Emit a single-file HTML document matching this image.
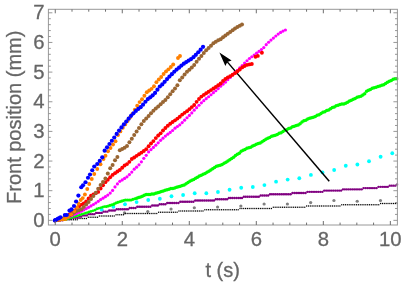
<!DOCTYPE html>
<html><head><meta charset="utf-8"><title>Front position</title>
<style>html,body{margin:0;padding:0;background:#fff;overflow:hidden}body{width:403px;height:288px;font-family:"Liberation Sans",sans-serif}</style>
</head><body>
<svg width="403" height="288" viewBox="0 0 403 288" style="display:block">
<rect width="403" height="288" fill="#fff"/>
<defs><clipPath id="c"><rect x="48.4" y="9.3" width="350.0" height="215.7"/></clipPath></defs>
<g clip-path="url(#c)">
<g fill="#808080"><circle cx="124.50" cy="212.90" r="1.6"/><circle cx="147.77" cy="211.50" r="1.6"/><circle cx="171.04" cy="209.00" r="1.6"/><circle cx="194.31" cy="207.75" r="1.6"/><circle cx="217.58" cy="207.00" r="1.6"/><circle cx="240.85" cy="206.00" r="1.6"/><circle cx="264.12" cy="204.00" r="1.6"/><circle cx="287.39" cy="204.00" r="1.6"/><circle cx="310.66" cy="202.60" r="1.6"/><circle cx="333.93" cy="200.50" r="1.6"/><circle cx="357.20" cy="201.25" r="1.6"/><circle cx="380.47" cy="200.50" r="1.6"/></g>
<g fill="#000"><rect x="54.42" y="220.35" width="1.15" height="1.3"/><rect x="56.27" y="219.10" width="1.15" height="1.3"/><rect x="58.12" y="219.10" width="1.15" height="1.3"/><rect x="59.98" y="219.10" width="1.15" height="1.3"/><rect x="61.83" y="219.10" width="1.15" height="1.3"/><rect x="63.67" y="219.10" width="1.15" height="1.3"/><rect x="65.53" y="219.10" width="1.15" height="1.3"/><rect x="67.38" y="219.10" width="1.15" height="1.3"/><rect x="69.23" y="219.10" width="1.15" height="1.3"/><rect x="71.08" y="219.10" width="1.15" height="1.3"/><rect x="72.93" y="219.10" width="1.15" height="1.3"/><rect x="74.78" y="219.10" width="1.15" height="1.3"/><rect x="76.63" y="219.10" width="1.15" height="1.3"/><rect x="78.48" y="217.85" width="1.15" height="1.3"/><rect x="80.33" y="217.85" width="1.15" height="1.3"/><rect x="82.18" y="217.85" width="1.15" height="1.3"/><rect x="84.03" y="217.85" width="1.15" height="1.3"/><rect x="85.88" y="217.85" width="1.15" height="1.3"/><rect x="87.73" y="216.60" width="1.15" height="1.3"/><rect x="89.58" y="216.60" width="1.15" height="1.3"/><rect x="91.43" y="216.60" width="1.15" height="1.3"/><rect x="93.28" y="216.60" width="1.15" height="1.3"/><rect x="95.13" y="216.60" width="1.15" height="1.3"/><rect x="96.98" y="216.60" width="1.15" height="1.3"/><rect x="98.83" y="215.35" width="1.15" height="1.3"/><rect x="100.68" y="215.35" width="1.15" height="1.3"/><rect x="102.53" y="215.35" width="1.15" height="1.3"/><rect x="104.38" y="215.35" width="1.15" height="1.3"/><rect x="106.23" y="215.35" width="1.15" height="1.3"/><rect x="108.08" y="215.35" width="1.15" height="1.3"/><rect x="109.93" y="215.35" width="1.15" height="1.3"/><rect x="111.78" y="215.35" width="1.15" height="1.3"/><rect x="113.63" y="215.35" width="1.15" height="1.3"/><rect x="115.48" y="214.10" width="1.15" height="1.3"/><rect x="117.33" y="214.10" width="1.15" height="1.3"/><rect x="119.18" y="214.10" width="1.15" height="1.3"/><rect x="121.03" y="214.10" width="1.15" height="1.3"/><rect x="122.88" y="214.10" width="1.15" height="1.3"/><rect x="124.73" y="212.85" width="1.15" height="1.3"/><rect x="126.58" y="212.85" width="1.15" height="1.3"/><rect x="128.43" y="212.85" width="1.15" height="1.3"/><rect x="130.28" y="212.85" width="1.15" height="1.3"/><rect x="132.13" y="212.85" width="1.15" height="1.3"/><rect x="133.98" y="212.85" width="1.15" height="1.3"/><rect x="135.83" y="212.85" width="1.15" height="1.3"/><rect x="137.68" y="212.85" width="1.15" height="1.3"/><rect x="139.53" y="212.85" width="1.15" height="1.3"/><rect x="141.38" y="212.85" width="1.15" height="1.3"/><rect x="143.23" y="212.85" width="1.15" height="1.3"/><rect x="145.08" y="212.85" width="1.15" height="1.3"/><rect x="146.93" y="212.85" width="1.15" height="1.3"/><rect x="148.78" y="212.85" width="1.15" height="1.3"/><rect x="150.63" y="212.85" width="1.15" height="1.3"/><rect x="152.48" y="212.85" width="1.15" height="1.3"/><rect x="154.33" y="212.85" width="1.15" height="1.3"/><rect x="156.18" y="212.85" width="1.15" height="1.3"/><rect x="158.03" y="211.60" width="1.15" height="1.3"/><rect x="159.88" y="211.60" width="1.15" height="1.3"/><rect x="161.73" y="211.60" width="1.15" height="1.3"/><rect x="163.58" y="211.60" width="1.15" height="1.3"/><rect x="165.43" y="211.60" width="1.15" height="1.3"/><rect x="167.28" y="211.60" width="1.15" height="1.3"/><rect x="169.13" y="211.60" width="1.15" height="1.3"/><rect x="170.98" y="211.60" width="1.15" height="1.3"/><rect x="172.83" y="211.60" width="1.15" height="1.3"/><rect x="174.68" y="211.60" width="1.15" height="1.3"/><rect x="176.53" y="211.60" width="1.15" height="1.3"/><rect x="178.38" y="210.35" width="1.15" height="1.3"/><rect x="180.23" y="210.35" width="1.15" height="1.3"/><rect x="182.08" y="210.35" width="1.15" height="1.3"/><rect x="183.93" y="210.35" width="1.15" height="1.3"/><rect x="185.78" y="210.35" width="1.15" height="1.3"/><rect x="187.63" y="210.35" width="1.15" height="1.3"/><rect x="189.48" y="210.35" width="1.15" height="1.3"/><rect x="191.33" y="210.35" width="1.15" height="1.3"/><rect x="193.18" y="210.35" width="1.15" height="1.3"/><rect x="195.03" y="210.35" width="1.15" height="1.3"/><rect x="196.88" y="210.35" width="1.15" height="1.3"/><rect x="198.73" y="210.35" width="1.15" height="1.3"/><rect x="200.58" y="210.35" width="1.15" height="1.3"/><rect x="202.43" y="210.35" width="1.15" height="1.3"/><rect x="204.28" y="209.10" width="1.15" height="1.3"/><rect x="206.13" y="209.10" width="1.15" height="1.3"/><rect x="207.98" y="209.10" width="1.15" height="1.3"/><rect x="209.83" y="209.10" width="1.15" height="1.3"/><rect x="211.68" y="209.10" width="1.15" height="1.3"/><rect x="213.53" y="209.10" width="1.15" height="1.3"/><rect x="215.38" y="209.10" width="1.15" height="1.3"/><rect x="217.23" y="209.10" width="1.15" height="1.3"/><rect x="219.08" y="209.10" width="1.15" height="1.3"/><rect x="220.93" y="209.10" width="1.15" height="1.3"/><rect x="222.78" y="209.10" width="1.15" height="1.3"/><rect x="224.63" y="209.10" width="1.15" height="1.3"/><rect x="226.48" y="209.10" width="1.15" height="1.3"/><rect x="228.33" y="209.10" width="1.15" height="1.3"/><rect x="230.18" y="209.10" width="1.15" height="1.3"/><rect x="232.03" y="209.10" width="1.15" height="1.3"/><rect x="233.88" y="209.10" width="1.15" height="1.3"/><rect x="235.73" y="209.10" width="1.15" height="1.3"/><rect x="237.58" y="209.10" width="1.15" height="1.3"/><rect x="239.43" y="207.85" width="1.15" height="1.3"/><rect x="241.28" y="207.85" width="1.15" height="1.3"/><rect x="243.13" y="207.85" width="1.15" height="1.3"/><rect x="244.98" y="207.85" width="1.15" height="1.3"/><rect x="246.83" y="207.85" width="1.15" height="1.3"/><rect x="248.68" y="207.85" width="1.15" height="1.3"/><rect x="250.53" y="207.85" width="1.15" height="1.3"/><rect x="252.38" y="207.85" width="1.15" height="1.3"/><rect x="254.23" y="207.85" width="1.15" height="1.3"/><rect x="256.08" y="207.85" width="1.15" height="1.3"/><rect x="257.93" y="207.85" width="1.15" height="1.3"/><rect x="259.78" y="207.85" width="1.15" height="1.3"/><rect x="261.63" y="207.85" width="1.15" height="1.3"/><rect x="263.48" y="207.85" width="1.15" height="1.3"/><rect x="265.33" y="207.85" width="1.15" height="1.3"/><rect x="267.18" y="207.85" width="1.15" height="1.3"/><rect x="269.03" y="207.85" width="1.15" height="1.3"/><rect x="270.88" y="207.85" width="1.15" height="1.3"/><rect x="272.73" y="206.60" width="1.15" height="1.3"/><rect x="274.58" y="206.60" width="1.15" height="1.3"/><rect x="276.43" y="206.60" width="1.15" height="1.3"/><rect x="278.28" y="206.60" width="1.15" height="1.3"/><rect x="280.13" y="206.60" width="1.15" height="1.3"/><rect x="281.98" y="206.60" width="1.15" height="1.3"/><rect x="283.83" y="206.60" width="1.15" height="1.3"/><rect x="285.68" y="206.60" width="1.15" height="1.3"/><rect x="287.53" y="206.60" width="1.15" height="1.3"/><rect x="289.38" y="206.60" width="1.15" height="1.3"/><rect x="291.23" y="206.60" width="1.15" height="1.3"/><rect x="293.08" y="206.60" width="1.15" height="1.3"/><rect x="294.93" y="206.60" width="1.15" height="1.3"/><rect x="296.78" y="206.60" width="1.15" height="1.3"/><rect x="298.63" y="206.60" width="1.15" height="1.3"/><rect x="300.48" y="206.60" width="1.15" height="1.3"/><rect x="302.33" y="206.60" width="1.15" height="1.3"/><rect x="304.18" y="206.60" width="1.15" height="1.3"/><rect x="306.03" y="205.35" width="1.15" height="1.3"/><rect x="307.88" y="205.35" width="1.15" height="1.3"/><rect x="309.73" y="205.35" width="1.15" height="1.3"/><rect x="311.58" y="205.35" width="1.15" height="1.3"/><rect x="313.43" y="205.35" width="1.15" height="1.3"/><rect x="315.28" y="205.35" width="1.15" height="1.3"/><rect x="317.13" y="205.35" width="1.15" height="1.3"/><rect x="318.98" y="205.35" width="1.15" height="1.3"/><rect x="320.83" y="205.35" width="1.15" height="1.3"/><rect x="322.68" y="205.35" width="1.15" height="1.3"/><rect x="324.53" y="205.35" width="1.15" height="1.3"/><rect x="326.38" y="205.35" width="1.15" height="1.3"/><rect x="328.23" y="205.35" width="1.15" height="1.3"/><rect x="330.08" y="205.35" width="1.15" height="1.3"/><rect x="331.93" y="205.35" width="1.15" height="1.3"/><rect x="333.78" y="205.35" width="1.15" height="1.3"/><rect x="335.63" y="205.35" width="1.15" height="1.3"/><rect x="337.48" y="205.35" width="1.15" height="1.3"/><rect x="339.33" y="205.35" width="1.15" height="1.3"/><rect x="341.18" y="204.10" width="1.15" height="1.3"/><rect x="343.03" y="204.10" width="1.15" height="1.3"/><rect x="344.88" y="204.10" width="1.15" height="1.3"/><rect x="346.73" y="204.10" width="1.15" height="1.3"/><rect x="348.58" y="204.10" width="1.15" height="1.3"/><rect x="350.43" y="204.10" width="1.15" height="1.3"/><rect x="352.28" y="204.10" width="1.15" height="1.3"/><rect x="354.13" y="204.10" width="1.15" height="1.3"/><rect x="355.98" y="204.10" width="1.15" height="1.3"/><rect x="357.83" y="204.10" width="1.15" height="1.3"/><rect x="359.68" y="204.10" width="1.15" height="1.3"/><rect x="361.53" y="204.10" width="1.15" height="1.3"/><rect x="363.38" y="204.10" width="1.15" height="1.3"/><rect x="365.23" y="204.10" width="1.15" height="1.3"/><rect x="367.08" y="204.10" width="1.15" height="1.3"/><rect x="368.93" y="204.10" width="1.15" height="1.3"/><rect x="370.78" y="204.10" width="1.15" height="1.3"/><rect x="372.63" y="204.10" width="1.15" height="1.3"/><rect x="374.48" y="204.10" width="1.15" height="1.3"/><rect x="376.33" y="204.10" width="1.15" height="1.3"/><rect x="378.18" y="204.10" width="1.15" height="1.3"/><rect x="380.03" y="202.85" width="1.15" height="1.3"/><rect x="381.88" y="202.85" width="1.15" height="1.3"/><rect x="383.73" y="202.85" width="1.15" height="1.3"/><rect x="385.58" y="202.85" width="1.15" height="1.3"/><rect x="387.43" y="202.85" width="1.15" height="1.3"/><rect x="389.28" y="202.85" width="1.15" height="1.3"/><rect x="391.13" y="202.85" width="1.15" height="1.3"/><rect x="392.98" y="202.85" width="1.15" height="1.3"/><rect x="394.83" y="202.85" width="1.15" height="1.3"/><rect x="396.68" y="202.85" width="1.15" height="1.3"/></g>
<g fill="#00ffff"><circle cx="101.75" cy="209.71" r="1.9"/><circle cx="113.37" cy="206.75" r="1.9"/><circle cx="124.99" cy="204.25" r="1.9"/><circle cx="136.61" cy="202.10" r="1.9"/><circle cx="148.23" cy="200.00" r="1.9"/><circle cx="159.85" cy="198.75" r="1.9"/><circle cx="171.47" cy="196.25" r="1.9"/><circle cx="183.09" cy="195.00" r="1.9"/><circle cx="194.71" cy="193.25" r="1.9"/><circle cx="206.33" cy="193.25" r="1.9"/><circle cx="217.95" cy="192.00" r="1.9"/><circle cx="229.57" cy="189.75" r="1.9"/><circle cx="241.19" cy="187.74" r="1.9"/><circle cx="252.81" cy="186.99" r="1.9"/><circle cx="264.43" cy="185.05" r="1.9"/><circle cx="276.05" cy="181.70" r="1.9"/><circle cx="287.67" cy="179.60" r="1.9"/><circle cx="299.29" cy="178.26" r="1.9"/><circle cx="310.91" cy="174.90" r="1.9"/><circle cx="322.53" cy="172.40" r="1.9"/><circle cx="334.15" cy="170.00" r="1.9"/><circle cx="345.77" cy="165.75" r="1.9"/><circle cx="357.39" cy="164.50" r="1.9"/><circle cx="369.01" cy="161.25" r="1.9"/><circle cx="380.63" cy="156.75" r="1.9"/><circle cx="392.25" cy="153.25" r="1.9"/></g>
<g fill="#800080"><circle cx="55.00" cy="220.35" r="1.2"/><circle cx="56.87" cy="220.35" r="1.2"/><circle cx="58.74" cy="220.35" r="1.2"/><circle cx="60.61" cy="220.35" r="1.2"/><circle cx="62.48" cy="220.35" r="1.2"/><circle cx="64.35" cy="219.11" r="1.2"/><circle cx="66.22" cy="219.11" r="1.2"/><circle cx="68.09" cy="219.11" r="1.2"/><circle cx="69.96" cy="219.11" r="1.2"/><circle cx="71.83" cy="217.87" r="1.2"/><circle cx="73.70" cy="217.87" r="1.2"/><circle cx="75.57" cy="217.87" r="1.2"/><circle cx="77.44" cy="217.87" r="1.2"/><circle cx="79.31" cy="216.63" r="1.2"/><circle cx="81.18" cy="216.63" r="1.2"/><circle cx="83.05" cy="215.39" r="1.2"/><circle cx="84.92" cy="215.39" r="1.2"/><circle cx="86.79" cy="215.39" r="1.2"/><circle cx="88.66" cy="214.15" r="1.2"/><circle cx="90.53" cy="214.15" r="1.2"/><circle cx="92.40" cy="214.15" r="1.2"/><circle cx="94.27" cy="214.15" r="1.2"/><circle cx="96.14" cy="212.91" r="1.2"/><circle cx="98.01" cy="212.91" r="1.2"/><circle cx="99.88" cy="212.91" r="1.2"/><circle cx="101.75" cy="212.91" r="1.2"/><circle cx="103.62" cy="211.67" r="1.2"/><circle cx="105.49" cy="211.67" r="1.2"/><circle cx="107.36" cy="211.67" r="1.2"/><circle cx="109.23" cy="210.43" r="1.2"/><circle cx="111.10" cy="210.43" r="1.2"/><circle cx="112.97" cy="210.43" r="1.2"/><circle cx="114.84" cy="210.43" r="1.2"/><circle cx="116.71" cy="209.19" r="1.2"/><circle cx="118.58" cy="209.19" r="1.2"/><circle cx="120.45" cy="209.19" r="1.2"/><circle cx="122.32" cy="209.19" r="1.2"/><circle cx="124.19" cy="209.19" r="1.2"/><circle cx="126.06" cy="209.19" r="1.2"/><circle cx="127.93" cy="209.19" r="1.2"/><circle cx="129.80" cy="207.95" r="1.2"/><circle cx="131.67" cy="207.95" r="1.2"/><circle cx="133.54" cy="207.95" r="1.2"/><circle cx="135.41" cy="207.95" r="1.2"/><circle cx="137.28" cy="206.71" r="1.2"/><circle cx="139.15" cy="206.71" r="1.2"/><circle cx="141.02" cy="206.71" r="1.2"/><circle cx="142.89" cy="206.71" r="1.2"/><circle cx="144.76" cy="206.71" r="1.2"/><circle cx="146.63" cy="206.71" r="1.2"/><circle cx="148.50" cy="206.71" r="1.2"/><circle cx="150.37" cy="206.71" r="1.2"/><circle cx="152.24" cy="205.47" r="1.2"/><circle cx="154.11" cy="205.47" r="1.2"/><circle cx="155.98" cy="205.47" r="1.2"/><circle cx="157.85" cy="205.47" r="1.2"/><circle cx="159.72" cy="204.23" r="1.2"/><circle cx="161.59" cy="204.23" r="1.2"/><circle cx="163.46" cy="204.23" r="1.2"/><circle cx="165.33" cy="204.23" r="1.2"/><circle cx="167.20" cy="202.99" r="1.2"/><circle cx="169.07" cy="202.99" r="1.2"/><circle cx="170.94" cy="202.99" r="1.2"/><circle cx="172.81" cy="202.99" r="1.2"/><circle cx="174.68" cy="202.99" r="1.2"/><circle cx="176.55" cy="202.99" r="1.2"/><circle cx="178.42" cy="202.99" r="1.2"/><circle cx="180.29" cy="201.75" r="1.2"/><circle cx="182.16" cy="201.75" r="1.2"/><circle cx="184.03" cy="201.75" r="1.2"/><circle cx="185.90" cy="201.75" r="1.2"/><circle cx="187.77" cy="201.75" r="1.2"/><circle cx="189.64" cy="201.75" r="1.2"/><circle cx="191.51" cy="201.75" r="1.2"/><circle cx="193.38" cy="201.75" r="1.2"/><circle cx="195.25" cy="200.51" r="1.2"/><circle cx="197.12" cy="200.51" r="1.2"/><circle cx="198.99" cy="200.51" r="1.2"/><circle cx="200.86" cy="200.51" r="1.2"/><circle cx="202.73" cy="200.51" r="1.2"/><circle cx="204.60" cy="200.51" r="1.2"/><circle cx="206.47" cy="200.51" r="1.2"/><circle cx="208.34" cy="200.51" r="1.2"/><circle cx="210.21" cy="200.51" r="1.2"/><circle cx="212.08" cy="200.51" r="1.2"/><circle cx="213.95" cy="200.51" r="1.2"/><circle cx="215.82" cy="199.27" r="1.2"/><circle cx="217.69" cy="199.27" r="1.2"/><circle cx="219.56" cy="199.27" r="1.2"/><circle cx="221.43" cy="199.27" r="1.2"/><circle cx="223.30" cy="199.27" r="1.2"/><circle cx="225.17" cy="199.27" r="1.2"/><circle cx="227.04" cy="199.27" r="1.2"/><circle cx="228.91" cy="198.03" r="1.2"/><circle cx="230.78" cy="198.03" r="1.2"/><circle cx="232.65" cy="198.03" r="1.2"/><circle cx="234.52" cy="198.03" r="1.2"/><circle cx="236.39" cy="198.03" r="1.2"/><circle cx="238.26" cy="198.03" r="1.2"/><circle cx="240.13" cy="198.03" r="1.2"/><circle cx="242.00" cy="198.03" r="1.2"/><circle cx="243.87" cy="196.79" r="1.2"/><circle cx="245.74" cy="196.79" r="1.2"/><circle cx="247.61" cy="196.79" r="1.2"/><circle cx="249.48" cy="196.79" r="1.2"/><circle cx="251.35" cy="196.79" r="1.2"/><circle cx="253.22" cy="196.79" r="1.2"/><circle cx="255.09" cy="196.79" r="1.2"/><circle cx="256.96" cy="196.79" r="1.2"/><circle cx="258.83" cy="196.79" r="1.2"/><circle cx="260.70" cy="195.55" r="1.2"/><circle cx="262.57" cy="195.55" r="1.2"/><circle cx="264.44" cy="195.55" r="1.2"/><circle cx="266.31" cy="195.55" r="1.2"/><circle cx="268.18" cy="195.55" r="1.2"/><circle cx="270.05" cy="194.31" r="1.2"/><circle cx="271.92" cy="194.31" r="1.2"/><circle cx="273.79" cy="194.31" r="1.2"/><circle cx="275.66" cy="194.31" r="1.2"/><circle cx="277.53" cy="194.31" r="1.2"/><circle cx="279.40" cy="194.31" r="1.2"/><circle cx="281.27" cy="194.31" r="1.2"/><circle cx="283.14" cy="194.31" r="1.2"/><circle cx="285.01" cy="194.31" r="1.2"/><circle cx="286.88" cy="194.31" r="1.2"/><circle cx="288.75" cy="194.31" r="1.2"/><circle cx="290.62" cy="194.31" r="1.2"/><circle cx="292.49" cy="193.07" r="1.2"/><circle cx="294.36" cy="193.07" r="1.2"/><circle cx="296.23" cy="193.07" r="1.2"/><circle cx="298.10" cy="193.07" r="1.2"/><circle cx="299.97" cy="193.07" r="1.2"/><circle cx="301.84" cy="193.07" r="1.2"/><circle cx="303.71" cy="193.07" r="1.2"/><circle cx="305.58" cy="193.07" r="1.2"/><circle cx="307.45" cy="191.83" r="1.2"/><circle cx="309.32" cy="191.83" r="1.2"/><circle cx="311.19" cy="191.83" r="1.2"/><circle cx="313.06" cy="191.83" r="1.2"/><circle cx="314.93" cy="191.83" r="1.2"/><circle cx="316.80" cy="191.83" r="1.2"/><circle cx="318.67" cy="191.83" r="1.2"/><circle cx="320.54" cy="191.83" r="1.2"/><circle cx="322.41" cy="191.83" r="1.2"/><circle cx="324.28" cy="190.59" r="1.2"/><circle cx="326.15" cy="190.59" r="1.2"/><circle cx="328.02" cy="190.59" r="1.2"/><circle cx="329.89" cy="190.59" r="1.2"/><circle cx="331.76" cy="190.59" r="1.2"/><circle cx="333.63" cy="190.59" r="1.2"/><circle cx="335.50" cy="190.59" r="1.2"/><circle cx="337.37" cy="190.59" r="1.2"/><circle cx="339.24" cy="190.59" r="1.2"/><circle cx="341.11" cy="190.59" r="1.2"/><circle cx="342.98" cy="189.35" r="1.2"/><circle cx="344.85" cy="189.35" r="1.2"/><circle cx="346.72" cy="189.35" r="1.2"/><circle cx="348.59" cy="189.35" r="1.2"/><circle cx="350.46" cy="189.35" r="1.2"/><circle cx="352.33" cy="189.35" r="1.2"/><circle cx="354.20" cy="189.35" r="1.2"/><circle cx="356.07" cy="189.35" r="1.2"/><circle cx="357.94" cy="189.35" r="1.2"/><circle cx="359.81" cy="189.35" r="1.2"/><circle cx="361.68" cy="189.35" r="1.2"/><circle cx="363.55" cy="188.11" r="1.2"/><circle cx="365.42" cy="188.11" r="1.2"/><circle cx="367.29" cy="188.11" r="1.2"/><circle cx="369.16" cy="188.11" r="1.2"/><circle cx="371.03" cy="188.11" r="1.2"/><circle cx="372.90" cy="188.11" r="1.2"/><circle cx="374.77" cy="188.11" r="1.2"/><circle cx="376.64" cy="188.11" r="1.2"/><circle cx="378.51" cy="186.87" r="1.2"/><circle cx="380.38" cy="186.87" r="1.2"/><circle cx="382.25" cy="186.87" r="1.2"/><circle cx="384.12" cy="186.87" r="1.2"/><circle cx="385.99" cy="186.87" r="1.2"/><circle cx="387.86" cy="186.87" r="1.2"/><circle cx="389.73" cy="185.63" r="1.2"/><circle cx="391.60" cy="185.63" r="1.2"/><circle cx="393.47" cy="185.63" r="1.2"/><circle cx="395.34" cy="185.63" r="1.2"/><circle cx="397.21" cy="184.39" r="1.2"/></g>
<g fill="#00ff00"><circle cx="55.00" cy="220.35" r="1.35"/><circle cx="56.90" cy="220.35" r="1.35"/><circle cx="58.80" cy="219.75" r="1.35"/><circle cx="60.70" cy="219.75" r="1.35"/><circle cx="62.60" cy="219.75" r="1.35"/><circle cx="64.50" cy="219.75" r="1.35"/><circle cx="66.40" cy="219.15" r="1.35"/><circle cx="68.30" cy="218.55" r="1.35"/><circle cx="70.20" cy="217.95" r="1.35"/><circle cx="72.10" cy="217.35" r="1.35"/><circle cx="74.00" cy="216.75" r="1.35"/><circle cx="75.90" cy="216.15" r="1.35"/><circle cx="77.80" cy="215.55" r="1.35"/><circle cx="79.70" cy="214.95" r="1.35"/><circle cx="81.60" cy="214.35" r="1.35"/><circle cx="83.50" cy="213.75" r="1.35"/><circle cx="85.40" cy="213.15" r="1.35"/><circle cx="87.30" cy="212.55" r="1.35"/><circle cx="89.20" cy="211.95" r="1.35"/><circle cx="91.10" cy="211.35" r="1.35"/><circle cx="93.00" cy="210.75" r="1.35"/><circle cx="94.90" cy="210.15" r="1.35"/><circle cx="96.80" cy="208.95" r="1.35"/><circle cx="98.70" cy="208.35" r="1.35"/><circle cx="100.60" cy="207.75" r="1.35"/><circle cx="102.50" cy="207.15" r="1.35"/><circle cx="104.40" cy="206.55" r="1.35"/></g>
<g fill="#00ff00"><circle cx="106.30" cy="206.55" r="1.55"/><circle cx="108.20" cy="205.95" r="1.55"/><circle cx="110.10" cy="205.35" r="1.55"/><circle cx="112.00" cy="204.75" r="1.55"/><circle cx="113.90" cy="204.15" r="1.55"/><circle cx="115.80" cy="202.95" r="1.55"/><circle cx="117.70" cy="202.35" r="1.55"/><circle cx="119.60" cy="201.75" r="1.55"/><circle cx="121.50" cy="201.15" r="1.55"/><circle cx="123.40" cy="200.55" r="1.55"/><circle cx="125.30" cy="199.95" r="1.55"/><circle cx="127.20" cy="199.95" r="1.55"/><circle cx="129.10" cy="199.95" r="1.55"/><circle cx="131.00" cy="199.95" r="1.55"/><circle cx="132.90" cy="199.35" r="1.55"/><circle cx="134.80" cy="198.75" r="1.55"/></g>
<g fill="#00ff00"><circle cx="136.70" cy="198.15" r="1.75"/><circle cx="138.60" cy="197.55" r="1.75"/><circle cx="140.50" cy="196.95" r="1.75"/><circle cx="142.40" cy="196.35" r="1.75"/><circle cx="144.30" cy="195.15" r="1.75"/><circle cx="146.20" cy="194.55" r="1.75"/><circle cx="148.10" cy="194.55" r="1.75"/><circle cx="150.00" cy="194.55" r="1.75"/><circle cx="151.90" cy="193.95" r="1.75"/><circle cx="153.80" cy="193.95" r="1.75"/><circle cx="155.70" cy="193.35" r="1.75"/><circle cx="157.60" cy="192.75" r="1.75"/><circle cx="159.50" cy="192.15" r="1.75"/><circle cx="161.40" cy="191.55" r="1.75"/><circle cx="163.30" cy="190.95" r="1.75"/><circle cx="165.20" cy="190.35" r="1.75"/><circle cx="167.10" cy="189.75" r="1.75"/><circle cx="169.00" cy="189.15" r="1.75"/><circle cx="170.90" cy="188.55" r="1.75"/><circle cx="172.80" cy="188.55" r="1.75"/><circle cx="174.70" cy="187.95" r="1.75"/><circle cx="176.60" cy="187.35" r="1.75"/><circle cx="178.50" cy="186.75" r="1.75"/><circle cx="180.40" cy="186.15" r="1.75"/><circle cx="182.30" cy="185.55" r="1.75"/><circle cx="184.20" cy="184.95" r="1.75"/><circle cx="186.10" cy="183.75" r="1.75"/><circle cx="188.00" cy="182.55" r="1.75"/><circle cx="189.90" cy="181.35" r="1.75"/><circle cx="191.80" cy="180.15" r="1.75"/><circle cx="193.70" cy="179.55" r="1.75"/><circle cx="195.60" cy="178.35" r="1.75"/><circle cx="197.50" cy="177.15" r="1.75"/><circle cx="199.40" cy="175.95" r="1.75"/><circle cx="201.30" cy="175.35" r="1.75"/><circle cx="203.20" cy="174.15" r="1.75"/><circle cx="205.10" cy="173.55" r="1.75"/><circle cx="207.00" cy="172.35" r="1.75"/><circle cx="208.90" cy="171.15" r="1.75"/><circle cx="210.80" cy="169.95" r="1.75"/><circle cx="212.70" cy="168.75" r="1.75"/><circle cx="214.60" cy="167.55" r="1.75"/><circle cx="216.50" cy="166.35" r="1.75"/><circle cx="218.40" cy="165.75" r="1.75"/><circle cx="220.30" cy="165.15" r="1.75"/><circle cx="222.20" cy="164.55" r="1.75"/><circle cx="224.10" cy="163.35" r="1.75"/><circle cx="226.00" cy="162.15" r="1.75"/><circle cx="227.90" cy="160.95" r="1.75"/><circle cx="229.80" cy="159.75" r="1.75"/><circle cx="231.70" cy="158.55" r="1.75"/><circle cx="233.60" cy="157.35" r="1.75"/><circle cx="235.50" cy="155.55" r="1.75"/><circle cx="237.40" cy="154.35" r="1.75"/><circle cx="239.30" cy="153.15" r="1.75"/><circle cx="241.20" cy="151.35" r="1.75"/><circle cx="243.10" cy="150.15" r="1.75"/><circle cx="245.00" cy="149.55" r="1.75"/><circle cx="246.90" cy="148.35" r="1.75"/><circle cx="248.80" cy="147.75" r="1.75"/><circle cx="250.70" cy="147.15" r="1.75"/><circle cx="252.60" cy="145.95" r="1.75"/><circle cx="254.50" cy="145.35" r="1.75"/><circle cx="256.40" cy="144.15" r="1.75"/><circle cx="258.30" cy="143.55" r="1.75"/><circle cx="260.20" cy="142.95" r="1.75"/><circle cx="262.10" cy="141.75" r="1.75"/><circle cx="264.00" cy="140.55" r="1.75"/><circle cx="265.90" cy="139.35" r="1.75"/><circle cx="267.80" cy="138.15" r="1.75"/><circle cx="269.70" cy="137.55" r="1.75"/><circle cx="271.60" cy="136.35" r="1.75"/><circle cx="273.50" cy="135.75" r="1.75"/><circle cx="275.40" cy="135.15" r="1.75"/><circle cx="277.30" cy="134.55" r="1.75"/><circle cx="279.20" cy="133.35" r="1.75"/><circle cx="281.10" cy="132.75" r="1.75"/><circle cx="283.00" cy="131.55" r="1.75"/><circle cx="284.90" cy="130.35" r="1.75"/><circle cx="286.80" cy="129.75" r="1.75"/><circle cx="288.70" cy="128.55" r="1.75"/><circle cx="290.60" cy="127.95" r="1.75"/><circle cx="292.50" cy="126.75" r="1.75"/><circle cx="294.40" cy="126.15" r="1.75"/><circle cx="296.30" cy="125.55" r="1.75"/><circle cx="298.20" cy="124.95" r="1.75"/><circle cx="300.10" cy="123.75" r="1.75"/><circle cx="302.00" cy="121.95" r="1.75"/><circle cx="303.90" cy="120.75" r="1.75"/><circle cx="305.80" cy="120.15" r="1.75"/><circle cx="307.70" cy="118.95" r="1.75"/><circle cx="309.60" cy="118.35" r="1.75"/><circle cx="311.50" cy="117.75" r="1.75"/><circle cx="313.40" cy="117.15" r="1.75"/><circle cx="315.30" cy="116.55" r="1.75"/><circle cx="317.20" cy="115.35" r="1.75"/><circle cx="319.10" cy="114.75" r="1.75"/><circle cx="321.00" cy="113.55" r="1.75"/><circle cx="322.90" cy="112.35" r="1.75"/><circle cx="324.80" cy="111.75" r="1.75"/><circle cx="326.70" cy="110.55" r="1.75"/><circle cx="328.60" cy="109.95" r="1.75"/><circle cx="330.50" cy="108.75" r="1.75"/><circle cx="332.40" cy="107.55" r="1.75"/><circle cx="334.30" cy="106.95" r="1.75"/><circle cx="336.20" cy="105.75" r="1.75"/><circle cx="338.10" cy="105.15" r="1.75"/><circle cx="340.00" cy="104.55" r="1.75"/><circle cx="341.90" cy="103.95" r="1.75"/><circle cx="343.80" cy="103.95" r="1.75"/><circle cx="345.70" cy="103.35" r="1.75"/><circle cx="347.60" cy="102.15" r="1.75"/><circle cx="349.50" cy="100.95" r="1.75"/><circle cx="351.40" cy="100.35" r="1.75"/><circle cx="353.30" cy="99.15" r="1.75"/><circle cx="355.20" cy="98.55" r="1.75"/><circle cx="357.10" cy="97.35" r="1.75"/><circle cx="359.00" cy="96.75" r="1.75"/><circle cx="360.90" cy="96.15" r="1.75"/><circle cx="362.80" cy="94.95" r="1.75"/><circle cx="364.70" cy="93.75" r="1.75"/><circle cx="366.60" cy="91.35" r="1.75"/><circle cx="368.50" cy="90.15" r="1.75"/><circle cx="370.40" cy="89.55" r="1.75"/><circle cx="372.30" cy="88.35" r="1.75"/><circle cx="374.20" cy="87.75" r="1.75"/><circle cx="376.10" cy="87.15" r="1.75"/><circle cx="378.00" cy="86.55" r="1.75"/><circle cx="379.90" cy="85.95" r="1.75"/><circle cx="381.80" cy="85.35" r="1.75"/><circle cx="383.70" cy="84.75" r="1.75"/><circle cx="385.60" cy="83.55" r="1.75"/><circle cx="387.50" cy="82.35" r="1.75"/><circle cx="389.40" cy="81.15" r="1.75"/><circle cx="391.30" cy="80.55" r="1.75"/><circle cx="393.20" cy="79.35" r="1.75"/><circle cx="395.10" cy="78.75" r="1.75"/><circle cx="397.00" cy="78.75" r="1.75"/></g>
<line x1="227.32" y1="61.88" x2="329.25" y2="181.25" stroke="#000" stroke-width="1.5"/>
<path d="M219.4 52.6 L231.61 60.58 L227.32 61.88 L225.37 65.91Z" fill="#000"/>
<g fill="#ff00ff"><circle cx="55.00" cy="220.40" r="1.6"/><circle cx="57.40" cy="220.11" r="1.6"/><circle cx="59.80" cy="219.82" r="1.6"/><circle cx="62.20" cy="219.07" r="1.6"/><circle cx="64.60" cy="218.28" r="1.6"/><circle cx="67.00" cy="217.49" r="1.6"/><circle cx="69.40" cy="216.70" r="1.6"/><circle cx="71.80" cy="215.71" r="1.6"/><circle cx="74.20" cy="214.66" r="1.6"/><circle cx="76.60" cy="213.61" r="1.6"/><circle cx="79.00" cy="212.48" r="1.6"/><circle cx="81.40" cy="211.22" r="1.6"/><circle cx="83.80" cy="209.96" r="1.6"/><circle cx="86.20" cy="208.69" r="1.6"/><circle cx="88.60" cy="207.31" r="1.6"/><circle cx="91.00" cy="205.92" r="1.6"/><circle cx="93.40" cy="204.52" r="1.6"/><circle cx="95.80" cy="202.98" r="1.6"/><circle cx="98.20" cy="201.31" r="1.6"/><circle cx="100.60" cy="199.55" r="1.6"/><circle cx="103.00" cy="198.14" r="1.6"/><circle cx="105.40" cy="196.63" r="1.6"/><circle cx="107.80" cy="195.03" r="1.6"/><circle cx="110.20" cy="193.08" r="1.6"/><circle cx="112.60" cy="190.42" r="1.6"/><circle cx="115.00" cy="186.97" r="1.6"/><circle cx="117.40" cy="183.89" r="1.6"/><circle cx="119.80" cy="181.28" r="1.6"/><circle cx="122.20" cy="179.90" r="1.6"/><circle cx="124.60" cy="178.44" r="1.6"/><circle cx="127.00" cy="176.86" r="1.6"/><circle cx="129.40" cy="174.60" r="1.6"/><circle cx="131.80" cy="172.06" r="1.6"/><circle cx="134.20" cy="169.16" r="1.6"/><circle cx="136.60" cy="167.16" r="1.6"/><circle cx="139.00" cy="164.79" r="1.6"/><circle cx="141.40" cy="161.80" r="1.6"/><circle cx="143.80" cy="158.30" r="1.6"/><circle cx="146.20" cy="155.37" r="1.6"/><circle cx="148.60" cy="151.90" r="1.6"/><circle cx="151.00" cy="149.62" r="1.6"/><circle cx="153.40" cy="147.38" r="1.6"/><circle cx="155.80" cy="145.18" r="1.6"/><circle cx="158.20" cy="142.79" r="1.6"/><circle cx="160.60" cy="140.29" r="1.6"/><circle cx="163.00" cy="138.15" r="1.6"/><circle cx="165.40" cy="136.12" r="1.6"/><circle cx="167.80" cy="134.20" r="1.6"/><circle cx="170.20" cy="132.43" r="1.6"/><circle cx="172.60" cy="130.49" r="1.6"/><circle cx="175.00" cy="128.22" r="1.6"/><circle cx="177.40" cy="126.50" r="1.6"/><circle cx="179.80" cy="124.79" r="1.6"/><circle cx="182.20" cy="122.61" r="1.6"/><circle cx="184.60" cy="120.21" r="1.6"/><circle cx="187.00" cy="117.73" r="1.6"/><circle cx="189.40" cy="115.41" r="1.6"/><circle cx="191.80" cy="112.88" r="1.6"/><circle cx="194.20" cy="110.16" r="1.6"/><circle cx="196.60" cy="107.69" r="1.6"/><circle cx="199.00" cy="105.25" r="1.6"/><circle cx="201.40" cy="102.85" r="1.6"/><circle cx="203.80" cy="100.72" r="1.6"/><circle cx="206.20" cy="98.69" r="1.6"/><circle cx="208.60" cy="96.77" r="1.6"/><circle cx="211.00" cy="94.73" r="1.6"/><circle cx="213.40" cy="92.68" r="1.6"/><circle cx="215.80" cy="90.76" r="1.6"/><circle cx="218.20" cy="88.55" r="1.6"/><circle cx="220.60" cy="86.17" r="1.6"/><circle cx="223.00" cy="84.27" r="1.6"/><circle cx="225.40" cy="82.14" r="1.6"/><circle cx="227.80" cy="79.76" r="1.6"/><circle cx="230.20" cy="77.39" r="1.6"/><circle cx="232.60" cy="75.01" r="1.6"/><circle cx="235.00" cy="72.63" r="1.6"/><circle cx="237.40" cy="70.26" r="1.6"/><circle cx="239.80" cy="67.88" r="1.6"/><circle cx="242.20" cy="65.50" r="1.6"/><circle cx="244.60" cy="63.12" r="1.6"/><circle cx="247.00" cy="60.76" r="1.6"/><circle cx="249.40" cy="58.49" r="1.6"/><circle cx="251.80" cy="56.76" r="1.6"/><circle cx="254.20" cy="55.04" r="1.6"/><circle cx="256.60" cy="53.21" r="1.6"/><circle cx="259.00" cy="51.39" r="1.6"/><circle cx="261.40" cy="49.52" r="1.6"/><circle cx="263.80" cy="47.56" r="1.6"/><circle cx="266.20" cy="44.72" r="1.6"/><circle cx="268.60" cy="42.23" r="1.6"/><circle cx="271.00" cy="40.09" r="1.6"/><circle cx="273.40" cy="38.03" r="1.6"/><circle cx="275.80" cy="36.02" r="1.6"/><circle cx="278.20" cy="34.06" r="1.6"/><circle cx="280.60" cy="32.40" r="1.6"/><circle cx="283.00" cy="31.04" r="1.6"/><circle cx="285.40" cy="29.98" r="1.6"/></g>
<g fill="#ff0000"><circle cx="55.00" cy="220.40" r="1.95"/><circle cx="57.40" cy="219.97" r="1.95"/><circle cx="59.80" cy="219.54" r="1.95"/><circle cx="62.20" cy="218.62" r="1.95"/><circle cx="64.60" cy="217.66" r="1.95"/><circle cx="67.00" cy="216.10" r="1.95"/><circle cx="69.40" cy="214.42" r="1.95"/><circle cx="71.80" cy="212.56" r="1.95"/><circle cx="74.20" cy="210.64" r="1.95"/><circle cx="76.60" cy="208.62" r="1.95"/><circle cx="79.00" cy="206.56" r="1.95"/><circle cx="81.40" cy="204.60" r="1.95"/><circle cx="83.80" cy="203.37" r="1.95"/><circle cx="86.20" cy="201.54" r="1.95"/><circle cx="88.60" cy="198.44" r="1.95"/><circle cx="91.00" cy="195.71" r="1.95"/><circle cx="93.40" cy="194.40" r="1.95"/><circle cx="95.80" cy="193.15" r="1.95"/><circle cx="98.20" cy="191.90" r="1.95"/><circle cx="100.60" cy="188.56" r="1.95"/><circle cx="103.00" cy="185.21" r="1.95"/><circle cx="105.40" cy="182.13" r="1.95"/><circle cx="107.80" cy="179.70" r="1.95"/><circle cx="110.20" cy="177.30" r="1.95"/><circle cx="112.60" cy="174.90" r="1.95"/><circle cx="115.00" cy="173.17" r="1.95"/><circle cx="117.40" cy="171.57" r="1.95"/><circle cx="119.80" cy="169.97" r="1.95"/><circle cx="122.20" cy="167.80" r="1.95"/><circle cx="124.60" cy="165.54" r="1.95"/><circle cx="127.00" cy="164.10" r="1.95"/><circle cx="129.40" cy="161.86" r="1.95"/><circle cx="131.80" cy="159.07" r="1.95"/><circle cx="134.20" cy="157.47" r="1.95"/><circle cx="136.60" cy="155.87" r="1.95"/><circle cx="139.00" cy="154.27" r="1.95"/><circle cx="141.40" cy="152.67" r="1.95"/><circle cx="143.80" cy="151.01" r="1.95"/><circle cx="146.20" cy="149.13" r="1.95"/><circle cx="148.60" cy="146.20" r="1.95"/><circle cx="151.00" cy="143.46" r="1.95"/><circle cx="153.40" cy="141.10" r="1.95"/><circle cx="155.80" cy="138.10" r="1.95"/><circle cx="158.20" cy="135.57" r="1.95"/><circle cx="160.60" cy="133.33" r="1.95"/><circle cx="163.00" cy="130.51" r="1.95"/><circle cx="165.40" cy="127.95" r="1.95"/><circle cx="167.80" cy="125.69" r="1.95"/><circle cx="170.20" cy="123.73" r="1.95"/><circle cx="172.60" cy="121.93" r="1.95"/><circle cx="175.00" cy="120.34" r="1.95"/><circle cx="177.40" cy="118.61" r="1.95"/><circle cx="179.80" cy="116.75" r="1.95"/><circle cx="182.20" cy="114.61" r="1.95"/><circle cx="184.60" cy="112.83" r="1.95"/><circle cx="187.00" cy="111.17" r="1.95"/><circle cx="189.40" cy="109.17" r="1.95"/><circle cx="191.80" cy="107.12" r="1.95"/><circle cx="194.20" cy="105.04" r="1.95"/><circle cx="196.60" cy="101.87" r="1.95"/><circle cx="199.00" cy="99.00" r="1.95"/><circle cx="201.40" cy="96.60" r="1.95"/><circle cx="203.80" cy="94.88" r="1.95"/><circle cx="206.20" cy="93.28" r="1.95"/><circle cx="208.60" cy="91.68" r="1.95"/><circle cx="211.00" cy="90.08" r="1.95"/><circle cx="213.40" cy="88.50" r="1.95"/><circle cx="215.80" cy="87.01" r="1.95"/><circle cx="218.20" cy="85.31" r="1.95"/><circle cx="220.60" cy="83.45" r="1.95"/><circle cx="223.00" cy="80.98" r="1.95"/><circle cx="225.40" cy="79.01" r="1.95"/><circle cx="227.80" cy="77.57" r="1.95"/><circle cx="230.20" cy="76.13" r="1.95"/><circle cx="232.60" cy="74.69" r="1.95"/><circle cx="235.00" cy="73.14" r="1.95"/><circle cx="237.40" cy="71.34" r="1.95"/><circle cx="239.80" cy="69.47" r="1.95"/><circle cx="242.20" cy="67.39" r="1.95"/><circle cx="244.60" cy="65.95" r="1.95"/><circle cx="247.00" cy="64.90" r="1.95"/><circle cx="249.40" cy="64.42" r="1.95"/><circle cx="251.80" cy="63.94" r="1.95"/><circle cx="255.50" cy="56.80" r="1.95"/><circle cx="257.80" cy="55.90" r="1.95"/><circle cx="261.90" cy="52.80" r="1.95"/></g>
<g fill="#996633"><circle cx="55.00" cy="220.40" r="2.0"/><circle cx="57.40" cy="219.97" r="2.0"/><circle cx="59.80" cy="219.54" r="2.0"/><circle cx="62.20" cy="218.84" r="2.0"/><circle cx="64.60" cy="218.12" r="2.0"/><circle cx="67.00" cy="217.00" r="2.0"/><circle cx="69.40" cy="215.80" r="2.0"/><circle cx="71.80" cy="214.24" r="2.0"/><circle cx="74.20" cy="212.56" r="2.0"/><circle cx="76.60" cy="210.88" r="2.0"/><circle cx="79.00" cy="210.28" r="2.0"/><circle cx="81.40" cy="209.36" r="2.0"/><circle cx="83.80" cy="207.02" r="2.0"/><circle cx="86.20" cy="204.55" r="2.0"/><circle cx="88.60" cy="201.90" r="2.0"/><circle cx="91.00" cy="199.00" r="2.0"/><circle cx="93.40" cy="195.89" r="2.0"/><circle cx="95.80" cy="192.71" r="2.0"/><circle cx="98.20" cy="188.87" r="2.0"/><circle cx="100.60" cy="184.96" r="2.0"/><circle cx="103.00" cy="181.91" r="2.0"/><circle cx="105.40" cy="178.53" r="2.0"/><circle cx="107.80" cy="173.48" r="2.0"/><circle cx="110.20" cy="168.33" r="2.0"/><circle cx="112.60" cy="164.90" r="2.0"/><circle cx="115.00" cy="160.25" r="2.0"/><circle cx="117.40" cy="156.92" r="2.0"/><circle cx="119.80" cy="150.24" r="2.0"/><circle cx="122.20" cy="149.12" r="2.0"/><circle cx="124.60" cy="147.68" r="2.0"/><circle cx="127.00" cy="145.88" r="2.0"/><circle cx="129.40" cy="142.28" r="2.0"/><circle cx="131.80" cy="138.68" r="2.0"/><circle cx="134.20" cy="135.08" r="2.0"/><circle cx="136.60" cy="131.48" r="2.0"/><circle cx="139.00" cy="127.88" r="2.0"/><circle cx="141.40" cy="124.28" r="2.0"/><circle cx="143.80" cy="121.09" r="2.0"/><circle cx="146.20" cy="118.55" r="2.0"/><circle cx="148.60" cy="116.00" r="2.0"/><circle cx="151.00" cy="113.33" r="2.0"/><circle cx="153.40" cy="110.85" r="2.0"/><circle cx="155.80" cy="108.49" r="2.0"/><circle cx="158.20" cy="106.41" r="2.0"/><circle cx="160.60" cy="104.24" r="2.0"/><circle cx="163.00" cy="102.00" r="2.0"/><circle cx="165.40" cy="99.92" r="2.0"/><circle cx="167.80" cy="97.35" r="2.0"/><circle cx="170.20" cy="94.15" r="2.0"/><circle cx="172.60" cy="91.37" r="2.0"/><circle cx="175.00" cy="88.50" r="2.0"/><circle cx="177.40" cy="85.30" r="2.0"/><circle cx="179.80" cy="80.34" r="2.0"/><circle cx="182.20" cy="77.46" r="2.0"/><circle cx="184.60" cy="74.58" r="2.0"/><circle cx="187.00" cy="71.78" r="2.0"/><circle cx="189.40" cy="69.70" r="2.0"/><circle cx="191.80" cy="67.45" r="2.0"/><circle cx="194.20" cy="65.05" r="2.0"/><circle cx="196.60" cy="61.87" r="2.0"/><circle cx="199.00" cy="58.80" r="2.0"/><circle cx="201.40" cy="55.92" r="2.0"/><circle cx="203.80" cy="53.04" r="2.0"/><circle cx="206.20" cy="50.35" r="2.0"/><circle cx="208.60" cy="48.11" r="2.0"/><circle cx="211.00" cy="45.63" r="2.0"/><circle cx="213.40" cy="43.23" r="2.0"/><circle cx="215.80" cy="41.63" r="2.0"/><circle cx="218.20" cy="40.32" r="2.0"/><circle cx="220.60" cy="39.17" r="2.0"/><circle cx="223.00" cy="37.25" r="2.0"/><circle cx="225.40" cy="35.41" r="2.0"/><circle cx="227.80" cy="33.65" r="2.0"/><circle cx="230.20" cy="32.03" r="2.0"/><circle cx="232.60" cy="30.32" r="2.0"/><circle cx="235.00" cy="28.40" r="2.0"/><circle cx="237.40" cy="26.99" r="2.0"/><circle cx="239.80" cy="25.69" r="2.0"/><circle cx="242.00" cy="24.60" r="2.0"/></g>
<g fill="#ff8000"><circle cx="57.00" cy="220.00" r="1.95"/><circle cx="60.00" cy="219.60" r="1.95"/><circle cx="63.00" cy="219.30" r="1.95"/><circle cx="65.50" cy="219.00" r="1.95"/><circle cx="68.00" cy="216.90" r="1.95"/><circle cx="71.10" cy="214.40" r="1.95"/><circle cx="74.25" cy="211.00" r="1.95"/><circle cx="77.00" cy="207.50" r="1.95"/><circle cx="78.60" cy="203.75" r="1.95"/><circle cx="80.75" cy="200.00" r="1.95"/><circle cx="82.75" cy="198.10" r="1.95"/><circle cx="84.90" cy="194.50" r="1.95"/><circle cx="87.25" cy="189.00" r="1.95"/><circle cx="89.25" cy="184.00" r="1.95"/><circle cx="91.75" cy="179.00" r="1.95"/><circle cx="94.25" cy="174.00" r="1.95"/><circle cx="97.25" cy="169.00" r="1.95"/><circle cx="100.50" cy="164.21" r="1.95"/><circle cx="103.50" cy="158.96" r="1.95"/><circle cx="105.50" cy="155.75" r="1.95"/><circle cx="108.00" cy="151.25" r="1.95"/><circle cx="110.50" cy="148.00" r="1.95"/><circle cx="113.00" cy="144.50" r="1.95"/><circle cx="115.50" cy="141.25" r="1.95"/><circle cx="118.00" cy="135.00" r="1.95"/><circle cx="120.40" cy="131.40" r="1.95"/><circle cx="122.80" cy="127.80" r="1.95"/><circle cx="125.20" cy="124.42" r="1.95"/><circle cx="127.60" cy="121.06" r="1.95"/><circle cx="130.00" cy="117.57" r="1.95"/><circle cx="132.40" cy="113.87" r="1.95"/><circle cx="134.80" cy="109.71" r="1.95"/><circle cx="137.20" cy="105.78" r="1.95"/><circle cx="139.60" cy="102.08" r="1.95"/><circle cx="142.00" cy="99.20" r="1.95"/><circle cx="144.40" cy="95.80" r="1.95"/><circle cx="146.80" cy="92.29" r="1.95"/><circle cx="149.20" cy="90.57" r="1.95"/><circle cx="151.60" cy="88.86" r="1.95"/><circle cx="154.00" cy="86.20" r="1.95"/><circle cx="156.40" cy="82.16" r="1.95"/><circle cx="158.80" cy="79.52" r="1.95"/><circle cx="161.20" cy="77.06" r="1.95"/><circle cx="163.60" cy="74.07" r="1.95"/><circle cx="166.00" cy="71.42" r="1.95"/><circle cx="168.40" cy="69.35" r="1.95"/><circle cx="170.80" cy="66.95" r="1.95"/><circle cx="173.20" cy="64.55" r="1.95"/><circle cx="178.00" cy="58.00" r="1.95"/><circle cx="180.00" cy="56.00" r="1.95"/></g>
<g fill="#0000ff"><circle cx="54.90" cy="220.40" r="2.1"/><circle cx="56.10" cy="219.75" r="2.1"/><circle cx="57.75" cy="218.75" r="2.1"/><circle cx="59.25" cy="218.10" r="2.1"/><circle cx="60.50" cy="217.25" r="2.1"/><circle cx="64.90" cy="215.00" r="2.1"/><circle cx="66.75" cy="215.00" r="2.1"/><circle cx="69.50" cy="210.60" r="2.1"/><circle cx="71.50" cy="209.40" r="2.1"/><circle cx="74.00" cy="206.00" r="2.1"/><circle cx="76.10" cy="201.50" r="2.1"/><circle cx="78.40" cy="195.60" r="2.1"/><circle cx="81.25" cy="187.25" r="2.1"/><circle cx="83.00" cy="185.25" r="2.1"/><circle cx="85.50" cy="182.25" r="2.1"/><circle cx="88.00" cy="177.75" r="2.1"/><circle cx="90.00" cy="174.50" r="2.1"/><circle cx="92.25" cy="170.25" r="2.1"/><circle cx="94.25" cy="166.50" r="2.1"/><circle cx="97.25" cy="164.00" r="2.1"/><circle cx="99.75" cy="160.90" r="2.1"/><circle cx="102.25" cy="157.35" r="2.1"/><circle cx="104.65" cy="150.69" r="2.1"/><circle cx="107.05" cy="147.33" r="2.1"/><circle cx="109.45" cy="143.98" r="2.1"/><circle cx="111.85" cy="140.74" r="2.1"/><circle cx="114.25" cy="137.50" r="2.1"/><circle cx="116.65" cy="133.97" r="2.1"/><circle cx="119.05" cy="130.54" r="2.1"/><circle cx="121.45" cy="127.46" r="2.1"/><circle cx="123.85" cy="124.38" r="2.1"/><circle cx="126.25" cy="121.56" r="2.1"/><circle cx="128.65" cy="118.72" r="2.1"/><circle cx="131.05" cy="115.84" r="2.1"/><circle cx="133.45" cy="113.30" r="2.1"/><circle cx="135.85" cy="110.96" r="2.1"/><circle cx="138.25" cy="108.96" r="2.1"/><circle cx="140.65" cy="107.19" r="2.1"/><circle cx="143.05" cy="104.65" r="2.1"/><circle cx="145.45" cy="101.75" r="2.1"/><circle cx="147.85" cy="99.07" r="2.1"/><circle cx="150.25" cy="97.33" r="2.1"/><circle cx="152.65" cy="95.35" r="2.1"/><circle cx="155.05" cy="92.95" r="2.1"/><circle cx="157.45" cy="89.64" r="2.1"/><circle cx="159.85" cy="86.48" r="2.1"/><circle cx="162.25" cy="84.40" r="2.1"/><circle cx="164.65" cy="81.85" r="2.1"/><circle cx="167.05" cy="79.09" r="2.1"/><circle cx="169.45" cy="76.55" r="2.1"/><circle cx="171.85" cy="74.15" r="2.1"/><circle cx="174.25" cy="71.75" r="2.1"/><circle cx="176.65" cy="69.58" r="2.1"/><circle cx="179.05" cy="67.66" r="2.1"/><circle cx="181.45" cy="65.59" r="2.1"/><circle cx="183.85" cy="63.68" r="2.1"/><circle cx="186.25" cy="62.08" r="2.1"/><circle cx="188.65" cy="60.61" r="2.1"/><circle cx="191.05" cy="59.06" r="2.1"/><circle cx="193.45" cy="57.14" r="2.1"/><circle cx="195.85" cy="54.79" r="2.1"/><circle cx="198.25" cy="52.23" r="2.1"/><circle cx="200.65" cy="49.63" r="2.1"/><circle cx="203.05" cy="46.79" r="2.1"/></g>
</g>
<rect x="48.4" y="9.3" width="349.0" height="215.7" fill="none" stroke="#989898" stroke-width="1"/>
<path d="M55.25 225.0v-4M55.25 9.3v4M72.00 225.0v-2.4M72.00 9.3v2.4M88.76 225.0v-2.4M88.76 9.3v2.4M105.52 225.0v-2.4M105.52 9.3v2.4M122.27 225.0v-4M122.27 9.3v4M139.02 225.0v-2.4M139.02 9.3v2.4M155.78 225.0v-2.4M155.78 9.3v2.4M172.53 225.0v-2.4M172.53 9.3v2.4M189.29 225.0v-4M189.29 9.3v4M206.04 225.0v-2.4M206.04 9.3v2.4M222.80 225.0v-2.4M222.80 9.3v2.4M239.55 225.0v-2.4M239.55 9.3v2.4M256.31 225.0v-4M256.31 9.3v4M273.06 225.0v-2.4M273.06 9.3v2.4M289.82 225.0v-2.4M289.82 9.3v2.4M306.57 225.0v-2.4M306.57 9.3v2.4M323.33 225.0v-4M323.33 9.3v4M340.08 225.0v-2.4M340.08 9.3v2.4M356.84 225.0v-2.4M356.84 9.3v2.4M373.59 225.0v-2.4M373.59 9.3v2.4M390.35 225.0v-4M390.35 9.3v4" stroke="#6e6e6e" stroke-width="1" fill="none"/>
<path d="M48.4 220.35h4M397.4 220.35h-4M48.4 214.42h2.4M397.4 214.42h-2.4M48.4 208.49h2.4M397.4 208.49h-2.4M48.4 202.56h2.4M397.4 202.56h-2.4M48.4 196.63h2.4M397.4 196.63h-2.4M48.4 190.70h4M397.4 190.70h-4M48.4 184.77h2.4M397.4 184.77h-2.4M48.4 178.84h2.4M397.4 178.84h-2.4M48.4 172.91h2.4M397.4 172.91h-2.4M48.4 166.98h2.4M397.4 166.98h-2.4M48.4 161.05h4M397.4 161.05h-4M48.4 155.12h2.4M397.4 155.12h-2.4M48.4 149.19h2.4M397.4 149.19h-2.4M48.4 143.26h2.4M397.4 143.26h-2.4M48.4 137.33h2.4M397.4 137.33h-2.4M48.4 131.40h4M397.4 131.40h-4M48.4 125.47h2.4M397.4 125.47h-2.4M48.4 119.54h2.4M397.4 119.54h-2.4M48.4 113.61h2.4M397.4 113.61h-2.4M48.4 107.68h2.4M397.4 107.68h-2.4M48.4 101.75h4M397.4 101.75h-4M48.4 95.82h2.4M397.4 95.82h-2.4M48.4 89.89h2.4M397.4 89.89h-2.4M48.4 83.96h2.4M397.4 83.96h-2.4M48.4 78.03h2.4M397.4 78.03h-2.4M48.4 72.10h4M397.4 72.10h-4M48.4 66.17h2.4M397.4 66.17h-2.4M48.4 60.24h2.4M397.4 60.24h-2.4M48.4 54.31h2.4M397.4 54.31h-2.4M48.4 48.38h2.4M397.4 48.38h-2.4M48.4 42.45h4M397.4 42.45h-4M48.4 36.52h2.4M397.4 36.52h-2.4M48.4 30.59h2.4M397.4 30.59h-2.4M48.4 24.66h2.4M397.4 24.66h-2.4M48.4 18.73h2.4M397.4 18.73h-2.4M48.4 12.80h4M397.4 12.80h-4" stroke="#8c8c8c" stroke-width="0.9" fill="none"/>
<g font-family="Liberation Sans, sans-serif" font-size="20.3" fill="#666" stroke="#666" stroke-width="0.3" style="filter:grayscale(1)">
<text x="44.6" y="226.95" text-anchor="end">0</text>
<text x="44.6" y="197.30" text-anchor="end">1</text>
<text x="44.6" y="167.65" text-anchor="end">2</text>
<text x="44.6" y="138.00" text-anchor="end">3</text>
<text x="44.6" y="108.35" text-anchor="end">4</text>
<text x="44.6" y="78.70" text-anchor="end">5</text>
<text x="44.6" y="49.05" text-anchor="end">6</text>
<text x="44.6" y="19.40" text-anchor="end">7</text>
<text x="55.25" y="246.3" text-anchor="middle">0</text>
<text x="122.27" y="246.3" text-anchor="middle">2</text>
<text x="189.29" y="246.3" text-anchor="middle">4</text>
<text x="256.31" y="246.3" text-anchor="middle">6</text>
<text x="323.33" y="246.3" text-anchor="middle">8</text>
<text x="390.35" y="246.3" text-anchor="middle">10</text>
<text x="222.7" y="276.9" font-size="20" text-anchor="middle">t (s)</text>
<text transform="translate(21.2 117.3) rotate(-90)" font-size="20" text-anchor="middle">Front position (mm)</text>
</g>
</svg>
</body></html>
